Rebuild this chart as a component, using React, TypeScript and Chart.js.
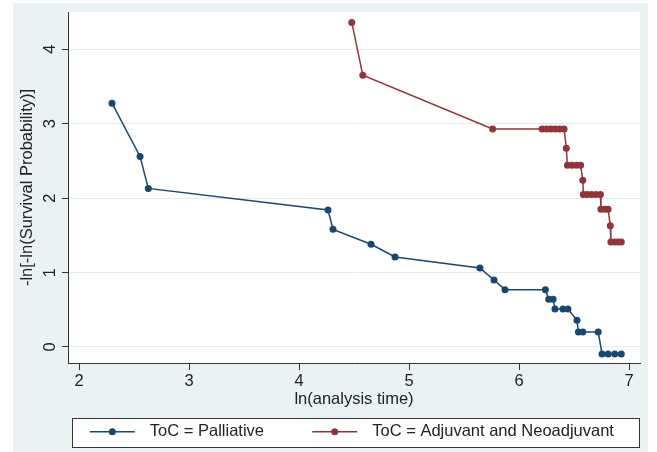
import React, { useEffect, useRef } from 'react';
import { Chart, registerables } from 'chart.js';

Chart.register(...registerables);

// ---- data ----
const X_TICKS = [2, 3, 4, 5, 6, 7];
const Y_TICKS = [0, 1, 2, 3, 4];
const X_TITLE = 'ln(analysis time)';
const Y_TITLE = '-ln[-ln(Survival Probability)]';
const SERIES_LABELS = ['ToC = Palliative', 'ToC = Adjuvant and Neoadjuvant'];

const palliativeX = [2.30, 2.555, 2.63, 4.264, 4.309, 4.655, 4.873, 5.645, 5.773, 5.873, 6.24, 6.27, 6.31, 6.327, 6.40, 6.445, 6.527, 6.54, 6.58, 6.72, 6.755, 6.81, 6.87, 6.93];
const palliativeY = [3.275, 2.56, 2.13, 1.84, 1.58, 1.38, 1.21, 1.06, 0.90, 0.77, 0.77, 0.64, 0.64, 0.51, 0.51, 0.51, 0.36, 0.20, 0.20, 0.20, -0.094, -0.094, -0.094, -0.094];

const adjuvantX = [4.48, 4.58, 5.76, 6.21, 6.25, 6.29, 6.33, 6.37, 6.41, 6.43, 6.44, 6.48, 6.52, 6.56, 6.58, 6.585, 6.62, 6.66, 6.70, 6.74, 6.745, 6.78, 6.81, 6.83, 6.835, 6.87, 6.90, 6.93];
const adjuvantY = [4.36, 3.65, 2.93, 2.93, 2.93, 2.93, 2.93, 2.93, 2.93, 2.67, 2.44, 2.44, 2.44, 2.44, 2.24, 2.05, 2.05, 2.05, 2.05, 2.05, 1.85, 1.85, 1.85, 1.63, 1.41, 1.41, 1.41, 1.41];

const X_MIN = 1.9;
const X_MAX = 7.1;
const Y_MIN = -0.215;
const Y_MAX = 4.5;

// ---- styles ----
const BLUE = '#1A476F';
const RED = '#90353B';
const COLORS = [BLUE, RED];
const FONT = 'Liberation Sans, Arial, sans-serif';
const TEXT = '#222222';
const AXIS = '#333333';
const OUTER_BG = '#EAF2F3';
const GRID = '#E3EBEE';

const toPts = (xs: number[], ys: number[]) => xs.map((x, i) => ({ x, y: ys[i] }));

export default function App() {
  const ref = useRef<HTMLCanvasElement | null>(null);

  useEffect(() => {
    if (!ref.current) return;

    const stataPlugin = {
      id: 'stataDecor',
      beforeDraw(chart: any) {
        const { ctx, chartArea, width, height } = chart;
        ctx.save();
        ctx.fillStyle = '#ffffff';
        ctx.fillRect(0, 0, width, height);
        ctx.fillStyle = OUTER_BG;
        ctx.fillRect(13, 3, 635, height - 3);
        ctx.fillStyle = '#ffffff';
        ctx.fillRect(chartArea.left, chartArea.top, chartArea.right - chartArea.left, chartArea.bottom - chartArea.top);
        const lg = chart.legend;
        if (lg) {
          const x0 = Math.round(chartArea.left + 4) + 0.5;
          const x1 = Math.round(chartArea.right - 1) + 0.5;
          const y0 = Math.round(lg.top - 4) + 0.5;
          const y1 = y0 + 29;
          ctx.fillStyle = '#ffffff';
          ctx.fillRect(x0, y0, x1 - x0, y1 - y0);
          ctx.strokeStyle = AXIS;
          ctx.lineWidth = 1;
          ctx.strokeRect(x0, y0, x1 - x0, y1 - y0);
        }
        ctx.restore();
      },
      afterDraw(chart: any) {
        const lg = chart.legend;
        if (!lg || !lg.legendHitBoxes) return;
        const { ctx } = chart;
        const boxW = lg.options.labels.boxWidth;
        const fs = lg.options.labels.font.size;
        ctx.save();
        lg.legendHitBoxes.forEach((hb: any, i: number) => {
          const textX = hb.left + boxW + fs / 2;
          const cy = hb.top + hb.height / 2;
          const c = COLORS[i];
          ctx.strokeStyle = c;
          ctx.lineWidth = 1.5;
          ctx.beginPath();
          ctx.moveTo(textX - 60, cy);
          ctx.lineTo(textX - 15, cy);
          ctx.stroke();
          ctx.fillStyle = c;
          ctx.beginPath();
          ctx.arc(textX - 37.5, cy, 3.5, 0, Math.PI * 2);
          ctx.fill();
        });
        ctx.restore();
      },
    };

    const mkDs = (label: string, data: any[], color: string) => ({
      label,
      data,
      showLine: true,
      borderColor: color,
      backgroundColor: color,
      borderWidth: 1.5,
      pointRadius: 3.5,
      pointBorderWidth: 0,
      pointBackgroundColor: color,
      pointBorderColor: color,
      tension: 0,
      clip: false as any,
      xAxisID: 'x',
      yAxisID: 'y',
    });

    const chart = new Chart(ref.current, {
      type: 'scatter',
      data: {
        datasets: [
          mkDs(SERIES_LABELS[0], toPts(palliativeX, palliativeY), BLUE),
          mkDs(SERIES_LABELS[1], toPts(adjuvantX, adjuvantY), RED),
        ],
      },
      plugins: [stataPlugin],
      options: {
        responsive: false,
        animation: false,
        layout: { padding: { left: 0, right: 0, top: 12, bottom: 2 } },
        plugins: {
          tooltip: { enabled: false },
          legend: {
            display: true,
            position: 'bottom',
            align: 'center',
            fullSize: true,
            labels: {
              boxWidth: 98.5,
              boxHeight: 16.5,
              padding: 1.5,
              color: TEXT,
              font: { family: FONT, size: 16.5 },
              generateLabels: (c: any) =>
                (Chart.defaults.plugins.legend.labels as any).generateLabels(c).map((l: any) => ({
                  ...l,
                  fillStyle: 'rgba(0,0,0,0)',
                  strokeStyle: 'rgba(0,0,0,0)',
                  lineWidth: 0,
                })),
            },
          },
        },
        scales: {
          x: {
            type: 'linear',
            position: 'bottom',
            min: X_MIN,
            max: X_MAX,
            afterBuildTicks: (s: any) => {
              s.ticks = X_TICKS.map((v) => ({ value: v }));
            },
            afterFit: (s: any) => {
              s.height = 59;
              s.paddingLeft = 0;
              s.paddingRight = 0;
            },
            grid: {
              drawOnChartArea: false,
              drawTicks: true,
              tickLength: 7,
              tickColor: AXIS,
              tickWidth: 1,
            },
            border: { display: true, color: AXIS, width: 1 },
            ticks: {
              color: TEXT,
              font: { family: FONT, size: 16.5 },
              padding: 2,
              maxRotation: 0,
              minRotation: 0,
              autoSkip: false,
            },
            title: {
              display: true,
              text: X_TITLE,
              color: TEXT,
              font: { family: FONT, size: 16.5 },
              padding: { top: 0, bottom: 12.3 },
            },
          },
          y: {
            type: 'linear',
            position: 'left',
            min: Y_MIN,
            max: Y_MAX,
            afterBuildTicks: (s: any) => {
              s.ticks = Y_TICKS.map((v) => ({ value: v }));
            },
            afterFit: (s: any) => {
              s.width = 68;
              s.paddingTop = 0;
              s.paddingBottom = 0;
            },
            grid: {
              drawOnChartArea: true,
              color: GRID,
              lineWidth: 1,
              drawTicks: true,
              tickLength: 6,
              tickColor: AXIS,
              tickWidth: 1,
            },
            border: { display: true, color: AXIS, width: 1 },
            ticks: {
              color: TEXT,
              font: { family: FONT, size: 16.5 },
              padding: 7.4,
              minRotation: 90,
              maxRotation: 90,
              crossAlign: 'center',
              autoSkip: false,
            },
            title: {
              display: true,
              text: Y_TITLE,
              color: TEXT,
              font: { family: FONT, size: 16.5 },
              padding: { top: 18, bottom: 0 },
            },
          },
          yr: {
            type: 'linear',
            position: 'right',
            display: true,
            min: Y_MIN,
            max: Y_MAX,
            afterFit: (s: any) => {
              s.width = 17;
              s.paddingTop = 0;
              s.paddingBottom = 0;
            },
            grid: { display: false, drawTicks: false },
            border: { display: false },
            ticks: { display: false },
          },
        },
      } as any,
    });

    return () => {
      chart.destroy();
    };
  }, []);

  return (
    <div style={{ position: 'absolute', left: 0, top: 0, width: 657, height: 452, background: '#ffffff' }}>
      <canvas ref={ref} width={657} height={452} style={{ display: 'block', width: 657, height: 452 }} />
    </div>
  );
}
